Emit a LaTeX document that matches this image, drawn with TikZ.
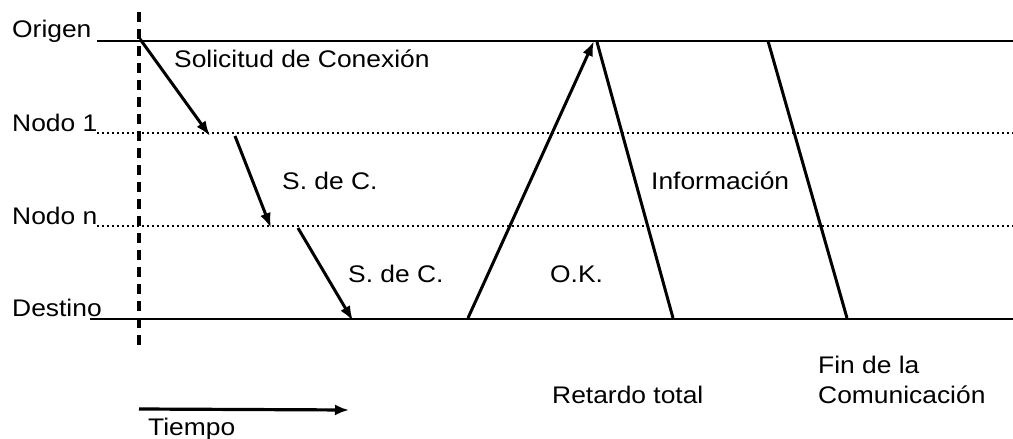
\documentclass[tikz,border=0pt]{standalone}
\usepackage{fontspec}
\setmainfont{Liberation Sans}[FakeStretch=1.1]
\usetikzlibrary{arrows.meta}
\begin{document}
\begin{tikzpicture}[x=1pt,y=-1pt,
  lbl/.style={anchor=base west,inner sep=0pt,font=\fontsize{24}{28}\selectfont},
  solidline/.style={line width=1.6pt},
  dotline/.style={line width=2.8pt,dash pattern=on 2.4pt off 2.6pt},
  msg/.style={line width=3pt},
  msgarrow/.style={msg,-{Latex[length=15pt,width=11pt]}},
  timeline/.style={line width=3.2pt,dash pattern=on 10pt off 7pt}]
\useasboundingbox (0,0) rectangle (1013,439);
% level lines
\coordinate (o1) at (97,41);  \coordinate (o2) at (1013,41);
\coordinate (n1a) at (97,133); \coordinate (n1b) at (1013,133);
\coordinate (nna) at (97,226); \coordinate (nnb) at (1013,226);
\coordinate (d1) at (90,319);  \coordinate (d2) at (1013,319);
\draw[solidline] (o1) -- (o2);
\draw[dotline] (n1a) -- (n1b);
\draw[dotline] (nna) -- (nnb);
\draw[solidline] (d1) -- (d2);
% time origin
\coordinate (t1) at (139,12); \coordinate (t2) at (139,350);
\draw[timeline] (t1) -- (t2);
% level labels
\node[lbl] (lorig) at (12,37) {Origen};
\node[lbl] (lnodo1) at (12,131) {Nodo 1};
\node[lbl] (lnodon) at (12,224) {Nodo n};
\node[lbl] (ldest) at (12,316) {Destino};
% connection request
\coordinate (a1s) at (140,39);  \coordinate (a1e) at (210,136);
\coordinate (a2s) at (235,136); \coordinate (a2e) at (271,228);
\coordinate (a3s) at (298,228); \coordinate (a3e) at (353,321);
\draw[msgarrow] (a1s) -- (a1e);
\draw[msgarrow] (a2s) -- (a2e);
\draw[msgarrow] (a3s) -- (a3e);
% OK
\coordinate (oks) at (468,318); \coordinate (oke) at (594,41);
\draw[msgarrow] (oks) -- (oke);
% information
\coordinate (ins) at (597,42); \coordinate (ine) at (673,318);
\draw[msg] (ins) -- (ine);
% end of communication
\coordinate (fs) at (768,41); \coordinate (fe) at (847,318);
\draw[msg] (fs) -- (fe);
% time arrow
\coordinate (ts) at (139,409); \coordinate (te) at (349,410);
\draw[line width=3.2pt,-{Latex[length=14pt,width=11pt]}] (ts) -- (te);
% labels
\node[lbl] (lsol) at (174,67) {Solicitud de Conexión};
\node[lbl] (lsdc1) at (282,189) {S. de C.};
\node[lbl] (lsdc2) at (348,282) {S. de C.};
\node[lbl] (lok) at (550,282) {O.K.};
\node[lbl] (linf) at (651,189) {Información};
\node[lbl] (lret) at (552,403) {Retardo total};
\node[lbl] (lfin) at (818,373) {Fin de la};
\node[lbl] (lcom) at (818,403) {Comunicación};
\node[lbl] (ltie) at (148,435) {Tiempo};
\end{tikzpicture}
\end{document}
